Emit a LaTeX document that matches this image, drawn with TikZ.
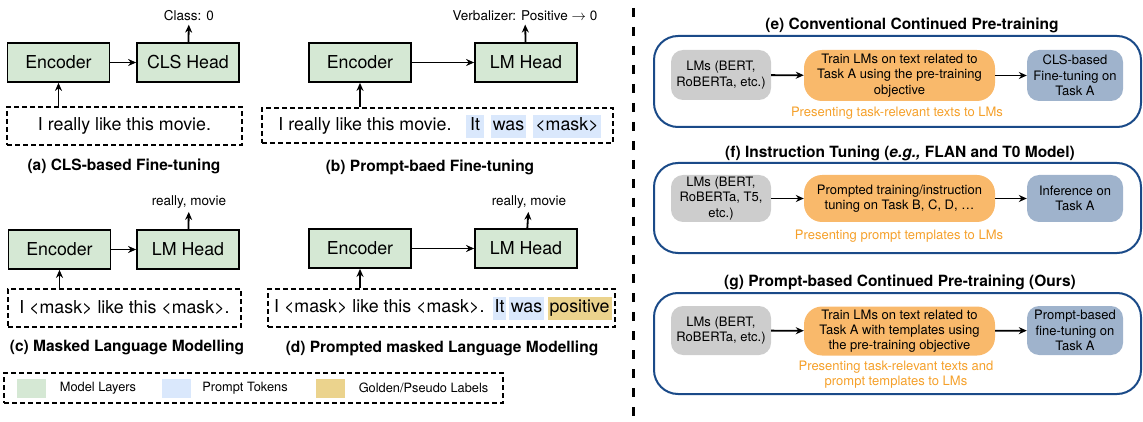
\documentclass[tikz,border=0pt]{standalone}
\usepackage{fontspec}
\setmainfont{TeX Gyre Heros}
\usetikzlibrary{arrows.meta}

\definecolor{layergreen}{HTML}{D5E8D4}
\definecolor{promptblue}{HTML}{DAE8FC}
\definecolor{goldlabel}{HTML}{EBD38D}
\definecolor{lmgray}{HTML}{CDCDCD}
\definecolor{trainorange}{HTML}{F9B96B}
\definecolor{taskblue}{HTML}{9FB3CC}
\definecolor{noteorange}{HTML}{F5A02A}
\definecolor{panelblue}{HTML}{1A4A88}

\newcommand{\encfont}{\fontsize{17.8}{21}\selectfont}
\newcommand{\lblfont}{\fontsize{13.5}{16}\selectfont}
\newcommand{\capfont}{\fontsize{15.5}{18}\selectfont\bfseries}
\newcommand{\boxfont}{\fontsize{13}{15.3}\selectfont}
\newcommand{\legfont}{\fontsize{12.8}{15}\selectfont}

\begin{document}
\begin{tikzpicture}[x=1pt,y=-1pt,>={Stealth[length=8pt,width=7pt]},
    layer/.style={draw,line width=1.8pt,fill=layergreen,minimum width=102pt,minimum height=39pt,font=\encfont},
    inbox/.style={draw,line width=1.7pt,dash pattern=on 5pt off 3pt,font=\encfont},
    tokline/.style={font=\encfont,text height=12.5pt,text depth=4pt,inner xsep=2pt,inner ysep=3.5pt},
    prompttok/.style={tokline,fill=promptblue},
    goldtok/.style={tokline,fill=goldlabel},
    arr/.style={->,line width=1.8pt},
    capt/.style={font=\capfont},
    outlbl/.style={font=\lblfont},
    swatch/.style={minimum width=29pt,minimum height=19pt,inner sep=0pt},
    panel/.style={draw=panelblue,line width=2pt,rounded corners=24pt,minimum width=487pt},
    lmbox/.style={fill=lmgray,rounded corners=12pt,minimum width=100pt,align=center,font=\boxfont,inner sep=1pt},
    trainbox/.style={fill=trainorange,rounded corners=18pt,minimum width=191pt,align=center,font=\boxfont,inner sep=1pt},
    taskbox/.style={fill=taskblue,rounded corners=12pt,minimum width=96pt,align=center,font=\boxfont,inner sep=1pt},
    note/.style={text=noteorange,align=center,font=\boxfont}]
    \useasboundingbox (0,0) rectangle (1143,422);

    % (a)
    \node[layer] (encA) at (58.5,62.5) {Encoder};
    \node[layer] (headA) at (188,62.5) {CLS Head};
    \node[inbox,minimum width=235pt,minimum height=38pt] (inA) at (124.5,126) {I really like this movie.};
    \node[outlbl] (outA) at (189,16) {Class: 0};
    \node[capt] (capA) at (124,166) {(a) CLS-based Fine-tuning};
    \draw[arr] (encA) -- (headA);
    \draw[arr] (headA) -- (outA);
    \draw[arr] (inA.north -| encA) -- (encA);

    % (b)
    \node[layer] (encB) at (360,62.5) {Encoder};
    \node[layer] (headB) at (526,62.5) {LM Head};
    \node[inbox,minimum width=351pt,minimum height=35pt] (inB) at (437.5,125.5) {};
    \node[tokline] (txtB) at (365,126.5) {I really like this movie.};
    \node[prompttok,minimum width=18pt] (itB) at (475,126.5) {It};
    \node[prompttok] (wasB) at (508.5,126.5) {was};
    \node[prompttok] (maskB) at (567,126.5) {<mask>};
    \node[outlbl] (outB) at (525,16) {Verbalizer: Positive $\rightarrow$ 0};
    \node[capt] (capB) at (430,167) {(b) Prompt-baed Fine-tuning};
    \draw[arr] (encB) -- (headB);
    \draw[arr] (headB) -- (outB);
    \draw[arr] (inB.north -| encB) -- (encB);

    % (c)
    \node[layer] (encC) at (59.5,249.5) {Encoder};
    \node[layer] (headC) at (188,249.5) {LM Head};
    \node[inbox,minimum width=233pt,minimum height=38pt] (inC) at (124.5,308) {I <mask> like this <mask>.};
    \node[outlbl] (outC) at (189,202) {really, movie};
    \node[capt] (capC) at (127,347) {(c) Masked Language Modelling};
    \draw[arr] (encC) -- (headC);
    \draw[arr] (headC) -- (outC);
    \draw[arr] (inC.north -| encC) -- (encC);

    % (d)
    \node[layer] (encD) at (360,248.5) {Encoder};
    \node[layer] (headD) at (526,248.5) {LM Head};
    \node[inbox,minimum width=347pt,minimum height=38pt] (inD) at (441.5,308) {};
    \node[tokline,anchor=west] (txtD) at (272,308.5) {I <mask> like this <mask>.};
    \node[prompttok,minimum width=13pt,inner xsep=1pt] (itD) at (499.5,308.5) {It};
    \node[prompttok] (wasD) at (526.5,308.5) {was};
    \node[goldtok] (posD) at (579.5,308.5) {positive};
    \node[outlbl] (outD) at (529,202) {really, movie};
    \node[capt] (capD) at (442,348) {(d) Prompted masked Language Modelling};
    \draw[arr] (encD) -- (headD);
    \draw[arr] (headD) -- (outD);
    \draw[arr] (inD.north -| encD) -- (encD);

    % legend
    \node[inbox,minimum width=499pt,minimum height=30pt] (legend) at (253.5,388) {};
    \node[swatch,fill=layergreen] (swG) at (31.5,388.5) {};
    \node[font=\legfont] (legG) at (98,388) {Model Layers};
    \node[swatch,fill=promptblue] (swB) at (176,388.5) {};
    \node[font=\legfont] (legB) at (245,388) {Prompt Tokens};
    \node[swatch,fill=goldlabel] (swY) at (330,388.5) {};
    \node[font=\legfont] (legY) at (423.5,388) {Golden/Pseudo Labels};

    \draw[line width=3pt,dash pattern=on 9pt off 10pt] (633,8) -- (633,418);

    % (e)
    \node[capt] (titE) at (912,25) {(e) Conventional Continued Pre-training};
    \node[panel,minimum height=91pt] (panE) at (897.5,81.5) {};
    \node[lmbox,minimum height=50pt] (lmE) at (721,75) {LMs (BERT,\\RoBERTa, etc.)};
    \node[trainbox,minimum height=51pt] (trE) at (899.5,75.5) {Train LMs on text related to\\Task A using the pre-training\\objective};
    \node[taskbox,minimum height=51pt] (tkE) at (1075,75.5) {CLS-based\\Fine-tuning on\\Task A};
    \node[note] (noteE) at (897,113) {Presenting task-relevant texts to LMs};
    \draw[arr] (lmE) -- (trE);
    \draw[arr] (trE) -- (tkE);

    % (f)
    \node[capt] (titF) at (900,153) {(f) Instruction Tuning (\textit{e.g.,} FLAN and T0 Model)};
    \node[panel,minimum height=90pt] (panF) at (897.5,208) {};
    \node[lmbox,minimum height=47pt] (lmF) at (721,198.5) {LMs (BERT,\\RoBERTa, T5,\\etc.)};
    \node[trainbox,minimum height=47pt] (trF) at (899.5,198.5) {Prompted training/instruction\\tuning on Task B, C, D, …};
    \node[taskbox,minimum height=47pt] (tkF) at (1075,198.5) {Inference on\\Task A};
    \node[note] (noteF) at (899,236) {Presenting prompt templates to LMs};
    \draw[arr] (lmF) -- (trF);
    \draw[arr] (trF) -- (tkF);

    % (g)
    \node[capt] (titG) at (900,282) {(g) Prompt-based Continued Pre-training (Ours)};
    \node[panel,minimum height=101pt] (panG) at (897.5,343.5) {};
    \node[lmbox,minimum height=49pt] (lmG) at (721,330.5) {LMs (BERT,\\RoBERTa, etc.)};
    \node[trainbox,minimum height=49pt] (trG) at (899.5,331) {Train LMs on text related to\\Task A with templates using\\the pre-training objective};
    \node[taskbox,minimum height=49pt] (tkG) at (1075,330.5) {Prompt-based\\fine-tuning on\\Task A};
    \node[note] (noteG) at (896,375) {Presenting task-relevant texts and\\prompt templates to LMs};
    \draw[arr] (lmG) -- (trG);
    \draw[arr] (trG) -- (tkG);
\end{tikzpicture}
\end{document}
